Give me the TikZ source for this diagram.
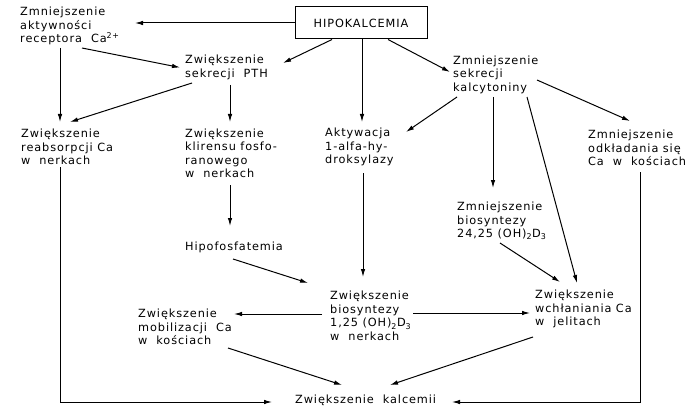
\documentclass[tikz,border=0pt]{standalone}
\usepackage{fontspec}
\setmainfont{DejaVu Sans}[LetterSpace=8]
\usepackage{tikz}
\usetikzlibrary{arrows.meta}

\begin{document}
\begin{tikzpicture}[x=1pt, y=-1pt,
  lbl/.style={anchor=west, align=left, inner sep=0pt, font=\fontsize{11.3}{13.5}\selectfont},
  arr/.style={-{Latex[length=8pt, width=4.5pt]}, line width=1pt}]
  \useasboundingbox (0,0) rectangle (700,406);

  % top box
  \node[draw, line width=1pt, minimum width=132pt, minimum height=32pt, inner sep=0pt,
        font=\fontsize{11.3}{13.5}\selectfont] (hipo) at (361,23) {HIPOKALCEMIA};

  % first row
  \node[lbl] (recep) at (20,26) {Zmniejszenie\\aktywności\\receptora\ \ Ca\textsuperscript{2+}};
  \node[lbl] (pth) at (185,67.5) {Zwiększenie\\sekrecji\ \ PTH};
  \node[lbl] (kalc) at (453,74.5) {Zmniejszenie\\sekrecji\\kalcytoniny};

  % second row
  \node[lbl] (reabs) at (21,147) {Zwiększenie\\reabsorpcji Ca\\w\ \ nerkach};
  \node[lbl] (klir) at (185,153.5) {Zwiększenie\\klirensu fosfo-\\ranowego\\w\ \ nerkach};
  \node[lbl] (aktyw) at (325,147) {Aktywacja\\1-alfa-hy-\\droksylazy};
  \node[lbl] (odkl) at (588,148) {Zmniejszenie\\odkładania się\\Ca\ \ w\ \ kościach};

  \node[lbl] (hipof) at (185,247) {Hipofosfatemia};
  \node[lbl] (bio24) at (457,221) {Zmniejszenie\\biosyntezy\\24,25 (OH)\textsubscript{2}D\textsubscript{3}};

  % third row
  \node[lbl] (mobil) at (138,327) {Zwiększenie\\mobilizacji\ \ Ca\\w\ \ kościach};
  \node[lbl] (bio125) at (330,316) {Zwiększenie\\biosyntezy\\1,25 (OH)\textsubscript{2}D\textsubscript{3}\\w\ \ nerkach};
  \node[lbl] (wchl) at (535,309) {Zwiększenie\\wchłaniania Ca\\w\ \ jelitach};

  \node[lbl] (kalcem) at (295,400) {Zwiększenie\ \ kalcemii};

  % arrows from the box
  \draw[arr] (hipo.west) -- ([shift={(115,-3)}]recep.west);
  \draw[arr] ([xshift=-29pt]hipo.south) -- ([shift={(98,-4.5)}]pth.west);
  \draw[arr] ([xshift=1pt]hipo.south) -- ([shift={(37,-25)}]aktyw.west);
  \draw[arr] ([xshift=27pt]hipo.south) -- ([shift={(-3,-2.5)}]kalc.west);

  \draw[arr] ([shift={(62,22)}]recep.west) -- ([xshift=-5pt]pth.west);
  \draw[arr] ([shift={(40,22)}]recep.west) -- ([shift={(39,-25)}]reabs.west);
  \draw[arr] ([shift={(7,15.5)}]pth.west) -- ([shift={(49,-25)}]reabs.west);
  \draw[arr] ([shift={(45,17.5)}]pth.west) -- ([shift={(45,-31.5)}]klir.west);

  % calcitonin branch
  \draw[arr] ([shift={(4,22.5)}]kalc.west) -- ([shift={(81,-15)}]aktyw.west);
  \draw[arr] ([shift={(40,22.5)}]kalc.west) -- ([shift={(36,-33)}]bio24.west);
  \draw[arr] ([shift={(74,22.5)}]kalc.west) -- ([shift={(42,-26)}]wchl.west);
  \draw[arr] ([shift={(84,5.5)}]kalc.west) -- ([shift={(42,-27)}]odkl.west);

  \draw[arr] ([shift={(45,31.5)}]klir.west) -- ([shift={(45,-21)}]hipof.west);
  \draw[arr] ([shift={(48,12)}]hipof.west) -- ([shift={(-22,-33)}]bio125.west);
  \draw[arr] ([shift={(38,26)}]aktyw.west) -- ([shift={(33,-39)}]bio125.west);
  \draw[arr] ([shift={(43,22)}]bio24.west) -- ([shift={(25,-27)}]wchl.west);

  \draw[arr] ([shift={(-8,-2)}]bio125.west) -- ([shift={(96,-13)}]mobil.west);
  \draw[arr] ([shift={(83,-3)}]bio125.west) -- ([shift={(-5,4)}]wchl.west);

  % into calcaemia
  \draw[arr] ([shift={(90,21)}]mobil.west) -- ([shift={(47,-15)}]kalcem.west);
  \draw[arr] ([shift={(-2,28)}]wchl.west) -- ([shift={(95,-15)}]kalcem.west);
  \draw[arr] ([shift={(39,20)}]reabs.west) |- ([shift={(-23,2)}]kalcem.west);
  \draw[arr] ([shift={(52,24)}]odkl.west) |- ([shift={(157,2)}]kalcem.west);
\end{tikzpicture}
\end{document}
